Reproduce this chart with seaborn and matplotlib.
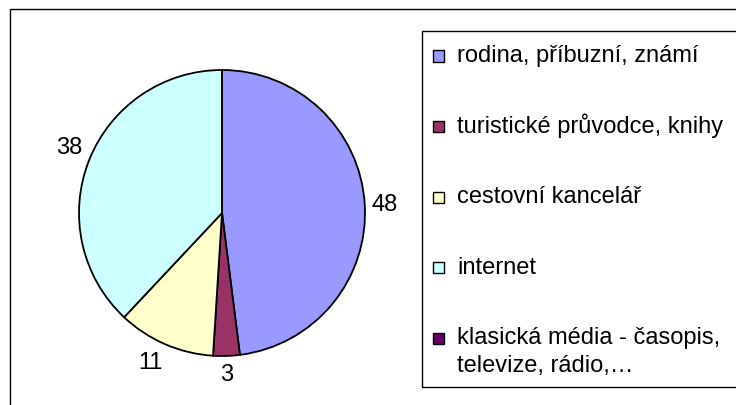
import numpy as np
import matplotlib
matplotlib.use('Agg')
from matplotlib import pyplot as plt
from matplotlib.patches import Rectangle
import seaborn as sns

categories = ['rodina, příbuzní, známí', 'turistické průvodce, knihy', 'cestovní kancelář',
              'internet', 'klasická média - časopis,\ntelevize, rádio,…']
values = [48, 3, 11, 38, 0]
colors = ['#9999FF', '#993366', '#FFFFCC', '#CCFFFF', '#660066']

sns.set_theme(style='white')
plt.rcParams['font.family'] = ['Liberation Sans', 'DejaVu Sans']

fig = plt.figure(figsize=(7.36, 4.06), dpi=100)
W, H = 736, 406
FS = 17

# outer frame
fig.patches.append(Rectangle((10 / W, -0.1), 1.2, 1 - 10 / H + 0.1, transform=fig.transFigure,
                             fill=False, edgecolor='black', linewidth=1.0))

cx, cy, r = 222, H - 214, 143
ax = fig.add_axes([(cx - r) / W, (cy - r) / H, 2 * r / W, 2 * r / H])
wedges, _ = ax.pie(values, colors=colors, startangle=90, counterclock=False,
                   wedgeprops=dict(edgecolor='black', linewidth=1.3))
ax.set_xlim(-1, 1)
ax.set_ylim(-1, 1)
ax.axis('off')

# data labels just outside the rim
for w, v in zip(wedges, values):
    if v == 0:
        continue
    theta = np.deg2rad((w.theta1 + w.theta2) / 2)
    c, s = np.cos(theta), np.sin(theta)
    d = 1.05
    ha = 'left' if c > 0.3 else ('right' if c < -0.3 else 'center')
    va = 'bottom' if s > 0.3 else ('top' if s < -0.3 else 'center')
    ax.text(d * c, d * s, str(v), ha=ha, va=va, fontsize=FS, color='black')

# legend box and entries
fig.patches.append(Rectangle((422 / W, 1 - 388 / H), 1.0, (388 - 32) / H, transform=fig.transFigure,
                             fill=False, edgecolor='black', linewidth=1.0))
for i, (cat, col) in enumerate(zip(categories, colors)):
    base = 62 + i * 70.5
    fig.patches.append(Rectangle((433 / W, 1 - (base + 0.5) / H), 11 / W, 11 / H,
                                 transform=fig.transFigure,
                                 facecolor=col, edgecolor='black', linewidth=1.0))
    for j, line in enumerate(cat.split('\n')):
        fig.text(457 / W, 1 - (base + j * 28) / H, line, fontsize=FS, ha='left',
                 va='baseline', color='black')

fig.savefig('out.png', dpi=100)
